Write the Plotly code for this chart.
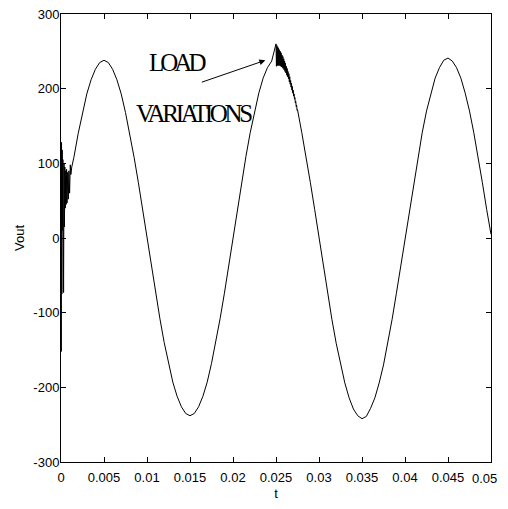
import plotly.graph_objects as go

# ---- data ----
# main waveform, sampled every 0.5 ms from t = 0 to t = 0.05 s
main_step = 0.0005
main_v = [
    0, 37, 74, 108, 140, 168, 193, 212, 226, 235, 238,
    235, 226, 212, 193, 168, 140, 108, 74, 37, 0,
    -37, -74, -108, -140, -168, -193, -212, -226, -235, -238,
    -235, -226, -212, -193, -168, -140, -108, -74, -37, 0,
    38, 74, 109, 141, 170, 194, 214, 228, 237, 240,
    237, 228, 214, 194, 170, 141, 109, 74, 38, 0,
    -38, -74, -109, -141, -170, -194, -214, -229, -238, -242,
    -239, -228, -214, -194, -170, -141, -109, -74, -38, 0,
    38, 74, 109, 141, 170, 194, 214, 228, 238, 241,
    237, 228, 214, 194, 170, 141, 109, 74, 38, 5,
]

# start-up transient
start_t = [0.0, 0.00003, 0.00006, 0.0001, 0.00014, 0.00018, 0.00022, 0.0003,
           0.00035, 0.0004, 0.00045, 0.0005, 0.00055, 0.0006, 0.00065, 0.0007,
           0.00078, 0.00085, 0.00092, 0.001, 0.00108, 0.00115, 0.00125]
start_v = [0, -152, 128, -75, 118, 10, 105, -73,
           100, 15, 95, 40, 90, 45, 92, 47,
           88, 52, 90, 60, 98, 85, 95]

# load variation oscillation near t = 0.025 s (0.05 ms spacing)
load_start, load_step = 0.025, 0.00005
load_v = [
    260, 230, 258, 231, 256, 231, 254, 231, 252, 231,
    250, 230, 248, 229, 245, 228, 243, 227, 240, 225,
    237, 223, 234, 221, 230, 218, 227, 216, 223, 213,
    220, 209, 216, 206, 211, 202, 207, 198, 203, 194,
    198, 190, 193, 186, 188, 181, 183, 176, 178, 171, 172,
]

x_tickvals = [0, 0.005, 0.01, 0.015, 0.02, 0.025, 0.03, 0.035, 0.04, 0.045, 0.05]
x_ticktext = ["0", "0.005", "0.01", "0.015", "0.02", "0.025", "0.03", "0.035", "0.04", "0.045", "0.05"]
y_tickvals = [-300, -200, -100, 0, 100, 200, 300]
y_ticktext = ["-300", "-200", "-100", "0", "100", "200", "300"]

# ---- assemble the trace ----
main_t = [round(k * main_step, 6) for k in range(len(main_v))]
load_t = [round(load_start + i * load_step, 6) for i in range(len(load_v))]
load_end = load_t[-1]

pts = []
for t, v in zip(main_t, main_v):
    if t <= start_t[-1]:
        continue
    if load_start <= t <= load_end:
        continue
    pts.append((t, v))
pts += list(zip(start_t, start_v))
pts += list(zip(load_t, load_v))
pts.sort(key=lambda p: p[0])
xs = [p[0] for p in pts]
ys = [p[1] for p in pts]

fig = go.Figure()
fig.add_trace(go.Scatter(x=xs, y=ys, mode="lines",
                         line=dict(color="black", width=1), showlegend=False,
                         hoverinfo="skip"))

sans = dict(family="Liberation Sans, Arial", size=13, color="black")
axis_common = dict(showline=True, linecolor="black", linewidth=1, mirror="ticks",
                   ticks="inside", ticklen=5, tickcolor="black", tickwidth=1,
                   showgrid=False, zeroline=False, automargin=False,
                   ticklabeloverflow="allow", tickfont=sans)

# the last x label is drawn as a right-anchored annotation so it stays inside the page
x_ticktext_axis = x_ticktext[:-1] + [""]
fig.update_xaxes(range=[0, 0.05], tickvals=x_tickvals, ticktext=x_ticktext_axis,
                 ticklabelstandoff=3,
                 title=dict(text="t", font=sans, standoff=17),
                 **axis_common)
fig.update_yaxes(range=[-300, 300], tickvals=y_tickvals, ticktext=y_ticktext,
                 ticklabelstandoff=-2,
                 title=dict(text="Vout", font=sans, standoff=5),
                 **axis_common)
fig.add_annotation(x=x_tickvals[-1], y=0, xref="x", yref="paper", text=x_ticktext[-1],
                   showarrow=False, xanchor="right", yanchor="top",
                   xshift=8, yshift=-7, font=sans)

serif = dict(family="Liberation Serif, Times New Roman", size=25, color="black")
fig.add_annotation(x=0.0135, y=235, xref="x", yref="y", showarrow=False,
                   text='<span style="letter-spacing:-4px">LOAD</span>', font=serif)
fig.add_annotation(x=0.0155, y=167, xref="x", yref="y", showarrow=False,
                   text='<span style="letter-spacing:-3.3px">VARIATIONS</span>', font=serif)
fig.add_annotation(x=0.02376, y=238, ax=0.0162, ay=208, xref="x", yref="y",
                   axref="x", ayref="y", text="", showarrow=True,
                   arrowhead=2, arrowsize=1.2, arrowwidth=1, arrowcolor="black")

# page body has an 8 px margin, so the figure is offset by it
fig.update_layout(width=500, height=493, margin=dict(l=53, r=17, t=6, b=39),
                  plot_bgcolor="white", paper_bgcolor="white")

fig.write_html("out.html")
